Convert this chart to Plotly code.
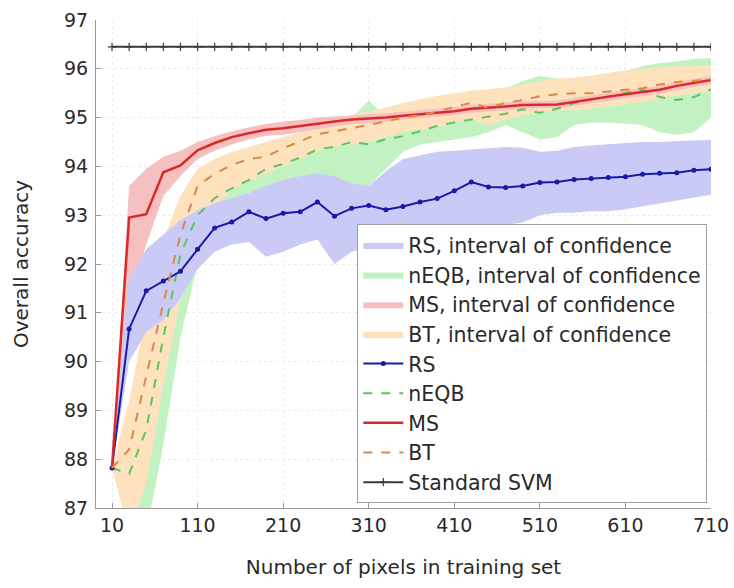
import plotly.graph_objects as go

# ---- data ----
n_pixels = [10, 30, 50, 70, 90, 110, 130, 150, 170, 190, 210, 230, 250, 270, 290, 310, 330, 350,
            370, 390, 410, 430, 450, 470, 490, 510, 530, 550, 570, 590, 610, 630, 650, 670, 690, 710]

rs_mean = [87.82, 90.67, 91.45, 91.65, 91.85, 92.30, 92.74, 92.86, 93.07, 92.93, 93.04, 93.07,
           93.27, 92.98, 93.14, 93.20, 93.11, 93.18, 93.27, 93.34, 93.50, 93.68, 93.58, 93.57,
           93.60, 93.67, 93.68, 93.73, 93.75, 93.77, 93.79, 93.84, 93.86, 93.87, 93.92, 93.94]
rs_upper = [87.82, 91.70, 92.30, 92.60, 92.90, 93.10, 93.25, 93.35, 93.45, 93.60, 93.72, 93.80,
            93.86, 93.80, 93.65, 93.60, 93.90, 94.15, 94.22, 94.30, 94.32, 94.35, 94.38, 94.40,
            94.38, 94.30, 94.32, 94.40, 94.43, 94.46, 94.48, 94.50, 94.50, 94.52, 94.53, 94.54]
rs_lower = [87.82, 90.00, 90.60, 90.85, 91.30, 91.90, 92.25, 92.40, 92.45, 92.15, 92.25, 92.40,
            92.50, 92.00, 92.25, 92.35, 92.40, 92.45, 92.50, 92.55, 92.60, 92.70, 92.75, 92.80,
            92.85, 93.00, 93.05, 93.05, 93.08, 93.08, 93.12, 93.18, 93.24, 93.30, 93.36, 93.42]

neqb_mean = [87.82, 87.70, 88.60, 90.50, 92.20, 93.00, 93.35, 93.55, 93.72, 93.95, 94.05, 94.18,
             94.35, 94.40, 94.50, 94.45, 94.56, 94.62, 94.72, 94.83, 94.90, 94.96, 95.02, 95.08,
             95.17, 95.10, 95.18, 95.30, 95.37, 95.42, 95.50, 95.57, 95.42, 95.36, 95.42, 95.58]
neqb_upper = [87.82, 88.60, 90.20, 92.00, 93.10, 93.60, 93.90, 94.10, 94.30, 94.45, 94.55, 94.62,
              94.70, 94.85, 95.00, 95.35, 95.00, 95.05, 95.15, 95.25, 95.35, 95.42, 95.50, 95.60,
              95.75, 95.85, 95.80, 95.70, 95.75, 95.85, 95.95, 96.05, 96.12, 96.15, 96.20, 96.22]
neqb_lower = [87.82, 86.50, 86.50, 88.30, 90.50, 92.00, 92.60, 92.90, 93.10, 93.30, 93.40, 93.60,
              93.75, 93.80, 93.55, 93.60, 93.95, 94.30, 94.45, 94.50, 94.55, 94.60, 94.70, 94.85,
              94.70, 94.55, 94.60, 94.85, 94.90, 94.90, 94.88, 94.85, 94.70, 94.65, 94.70, 95.00]

ms_mean = [87.82, 92.95, 93.02, 93.88, 94.02, 94.33, 94.48, 94.60, 94.68, 94.75, 94.78, 94.83,
           94.88, 94.92, 94.96, 94.98, 95.00, 95.04, 95.07, 95.10, 95.13, 95.18, 95.20, 95.23,
           95.26, 95.27, 95.27, 95.32, 95.38, 95.43, 95.48, 95.52, 95.57, 95.65, 95.71, 95.77]
ms_upper = [87.82, 93.60, 93.95, 94.20, 94.32, 94.50, 94.62, 94.72, 94.80, 94.87, 94.92, 94.95,
            95.00, 95.02, 95.05, 95.07, 95.09, 95.12, 95.15, 95.18, 95.21, 95.26, 95.28, 95.31,
            95.34, 95.35, 95.35, 95.40, 95.46, 95.51, 95.56, 95.60, 95.65, 95.73, 95.79, 95.85]
ms_lower = [87.82, 91.20, 92.40, 93.40, 93.80, 94.15, 94.32, 94.45, 94.55, 94.63, 94.65, 94.70,
            94.76, 94.82, 94.87, 94.89, 94.91, 94.96, 94.99, 95.02, 95.05, 95.10, 95.12, 95.15,
            95.18, 95.19, 95.19, 95.24, 95.30, 95.35, 95.40, 95.44, 95.49, 95.57, 95.63, 95.69]

bt_mean = [87.82, 88.20, 89.70, 91.20, 92.60, 93.60, 93.85, 94.03, 94.15, 94.20, 94.37, 94.52,
           94.66, 94.72, 94.78, 94.85, 94.92, 95.00, 95.05, 95.12, 95.22, 95.30, 95.20, 95.30,
           95.36, 95.44, 95.48, 95.50, 95.50, 95.54, 95.57, 95.60, 95.68, 95.73, 95.76, 95.78]
bt_upper = [87.82, 89.20, 91.00, 92.50, 93.40, 93.95, 94.15, 94.30, 94.40, 94.50, 94.60, 94.70,
            94.85, 94.95, 95.05, 95.12, 95.20, 95.30, 95.38, 95.45, 95.50, 95.55, 95.58, 95.62,
            95.68, 95.75, 95.80, 95.82, 95.86, 95.92, 95.96, 96.00, 96.03, 96.05, 96.07, 96.08]
bt_lower = [87.82, 86.50, 87.50, 89.50, 91.30, 92.70, 93.20, 93.50, 93.70, 93.85, 94.00, 94.15,
            94.30, 94.40, 94.45, 94.50, 94.60, 94.70, 94.75, 94.80, 94.90, 94.95, 94.85, 94.95,
            95.05, 95.10, 95.15, 95.15, 95.18, 95.22, 95.28, 95.32, 95.38, 95.45, 95.50, 95.55]

svm_acc = 96.45
svm_line = [svm_acc] * len(n_pixels)

x_ticks = [10, 110, 210, 310, 410, 510, 610, 710]
y_ticks = [87, 88, 89, 90, 91, 92, 93, 94, 95, 96, 97]

FONT = "DejaVu Sans, Liberation Sans, sans-serif"
TXT = "#2a2a2a"

fig = go.Figure()

def band(name, upper, lower, color, rank):
    fig.add_trace(go.Scatter(
        x=n_pixels + n_pixels[::-1], y=upper + lower[::-1],
        fill="toself", fillcolor=color, mode="lines", line=dict(width=0, color=color),
        name=name, legendrank=rank, legendgroup=name, hoverinfo="skip"))

band("nEQB, interval of confidence", neqb_upper, neqb_lower, "#c2f2c2", 2)
band("BT, interval of confidence", bt_upper, bt_lower, "#fde2bd", 4)
band("MS, interval of confidence", ms_upper, ms_lower, "#f7c0c0", 3)
band("RS, interval of confidence", rs_upper, rs_lower, "#cacaf6", 1)

fig.add_trace(go.Scatter(x=n_pixels, y=svm_line, name="Standard SVM", legendrank=9, legendgroup="svm",
                         mode="lines+markers", line=dict(color="#3a3a3a", width=2),
                         marker=dict(symbol="cross-thin", size=6, line=dict(width=1.2, color="#3a3a3a"))))
fig.add_trace(go.Scatter(x=n_pixels, y=neqb_mean, name="nEQB", legendrank=6, legendgroup="neqb",
                         mode="lines", line=dict(color="#5ec45e", width=2, dash="dash")))
fig.add_trace(go.Scatter(x=n_pixels, y=rs_mean, name="RS", legendrank=5, legendgroup="rs",
                         mode="lines+markers", line=dict(color="#1a1aa6", width=2),
                         marker=dict(symbol="circle", size=5, color="#1a1aa6")))
fig.add_trace(go.Scatter(x=n_pixels, y=ms_mean, name="MS", legendrank=7, legendgroup="ms",
                         mode="lines", line=dict(color="#d92a2a", width=2.5)))
fig.add_trace(go.Scatter(x=n_pixels, y=bt_mean, name="BT", legendrank=8, legendgroup="bt",
                         mode="lines", line=dict(color="#d98a4a", width=2, dash="dash")))

axis_common = dict(showline=True, linecolor="#9a9a9a", linewidth=1, ticks="inside", ticklen=5,
                   tickcolor="#9a9a9a", showgrid=True, gridcolor="#ececec", griddash="dot",
                   zeroline=False, tickfont=dict(family=FONT, size=19, color=TXT), mirror=False,
                   automargin=False)

fig.update_layout(
    width=734, height=588,
    margin=dict(l=96, r=23, t=20, b=80),
    paper_bgcolor="white", plot_bgcolor="white",
    font=dict(family=FONT, color=TXT),
    xaxis=dict(range=[-8.7, 710], tickvals=x_ticks,
               title=dict(text="Number of pixels in training set", font=dict(size=20, family=FONT, color=TXT), standoff=25),
               **axis_common),
    yaxis=dict(range=[87, 97], tickvals=y_ticks, ticklabelstandoff=3,
               title=dict(text="Overall accuracy", font=dict(size=20, family=FONT, color=TXT), standoff=30),
               **axis_common),
    legend=dict(x=0.994, y=0.01, xanchor="right", yanchor="bottom",
                bgcolor="white", bordercolor="#a0a0a0", borderwidth=1,
                font=dict(family=FONT, size=20.5, color=TXT),
                traceorder="grouped", tracegroupgap=0, itemwidth=40),
    showlegend=True,
)

fig.write_html("out.html", config={"displayModeBar": False},
               post_script="document.body.style.margin='0px';document.body.style.overflow='hidden';")
